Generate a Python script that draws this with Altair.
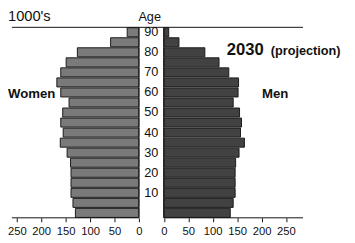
import altair as alt
import pandas as pd

# ---- data (thousands) ----
AGES = [0, 5, 10, 15, 20, 25, 30, 35, 40, 45, 50, 55, 60, 65, 70, 75, 80, 85, 90]
WOMEN = [130, 135, 139, 139, 139, 140, 147, 161, 155, 160, 156, 143, 160, 168, 160, 149, 126, 58, 24]
MEN = [136, 142, 146, 146, 146, 147, 154, 165, 157, 159, 155, 142, 152, 153, 133, 113, 84, 31, 10]
AGE_LABELS = [10, 20, 30, 40, 50, 60, 70, 80, 90]
TICKS = [0, 50, 100, 150, 200, 250]
WOMEN_AXIS_MAX = 260
MEN_AXIS_MAX = 285

GAP = 51  # width of the central age column, in value units
FONT = "Liberation Sans"

rows = []
for a, w, m in zip(AGES, WOMEN, MEN):
    rows.append({"age": a, "sex": "Women", "u0": -w, "u1": 0})
    rows.append({"age": a, "sex": "Men", "u0": GAP, "u1": GAP + m})
bars_df = pd.DataFrame(rows)

xscale = alt.Scale(domain=[-268, 426], nice=False, zero=False)
yscale = alt.Scale(domain=AGES[::-1], paddingInner=0.1, paddingOuter=0.04)

tick_values = [-t for t in TICKS] + [GAP + t for t in TICKS]
xaxis = alt.Axis(values=tick_values, domain=False, grid=False, tickSize=4,
                 tickColor="#111", labelPadding=4, labelFontSize=11.5,
                 labelFont=FONT, labelColor="#111", title=None,
                 labelExpr=f"datum.value <= 0 ? format(abs(datum.value), 'd') : format(datum.value - {GAP}, 'd')")

bars = alt.Chart(bars_df).mark_bar(stroke="#1a1a1a", strokeWidth=1).encode(
    x=alt.X("u0:Q", scale=xscale, axis=xaxis, title=None),
    x2="u1:Q",
    y=alt.Y("age:O", scale=yscale, axis=None),
    color=alt.Color("sex:N", scale=alt.Scale(domain=["Women", "Men"], range=["#7a7a7a", "#424242"]), legend=None),
)

axes_df = pd.DataFrame({
    "u0": [-WOMEN_AXIS_MAX, GAP],
    "u1": [0, GAP + MEN_AXIS_MAX],
})
bottom_lines = alt.Chart(axes_df).mark_rule(color="#111", strokeWidth=1).encode(
    x=alt.X("u0:Q", scale=xscale, axis=xaxis, title=None), x2="u1:Q", y=alt.value(195)
)
top_df = pd.DataFrame({"u0": [-WOMEN_AXIS_MAX], "u1": [GAP + MEN_AXIS_MAX]})
top_line = alt.Chart(top_df).mark_rule(color="#111", strokeWidth=1).encode(
    x=alt.X("u0:Q", scale=xscale, axis=xaxis, title=None), x2="u1:Q", y=alt.value(0)
)
zero_df = pd.DataFrame({"u0": [0, GAP]})
zero_lines = alt.Chart(zero_df).mark_rule(color="#111", strokeWidth=1).encode(
    x=alt.X("u0:Q", scale=xscale, axis=xaxis, title=None), y=alt.value(0), y2=alt.value(195)
)

lab_df = pd.DataFrame({"age": AGE_LABELS, "label": [str(a) for a in AGE_LABELS]})
age_labels = alt.Chart(lab_df).transform_calculate(u0=f"{GAP}/2").mark_text(
    font=FONT, fontSize=13, align="center", baseline="middle", color="#111"
).encode(
    x=alt.X("u0:Q", scale=xscale, axis=xaxis, title=None),
    y=alt.Y("age:O", scale=yscale, axis=None),
    text="label:N",
)

def label(txt, x, y, size, bold=False, font=FONT, align="left"):
    return alt.Chart(pd.DataFrame({"t": [txt]})).mark_text(
        font=font, fontSize=size, fontWeight="bold" if bold else "normal",
        align=align, baseline="alphabetic", color="#111"
    ).encode(text="t:N", x=alt.value(x), y=alt.value(y))

texts = [
    label("1000's", 0, -6, 15),
    label("Age", 145, -6, 13, align="center"),
    label("Women", 0, 72, 13.5, bold=True),
    label("Men", 260, 72, 13.5, bold=True),
    label("2030", 224, 28, 17, bold=True),
    label("(projection)", 269, 28, 13, bold=True),
]

chart = alt.layer(bars, bottom_lines, top_line, zero_lines, age_labels, *texts).properties(
    width=347, height=195,
    autosize=alt.AutoSizeParams(type="none"),
    padding={"left": 0, "right": 0, "top": 17, "bottom": 23},
).configure_view(stroke=None)

chart.save("out.html", embed_options={"renderer": "svg", "actions": False})
